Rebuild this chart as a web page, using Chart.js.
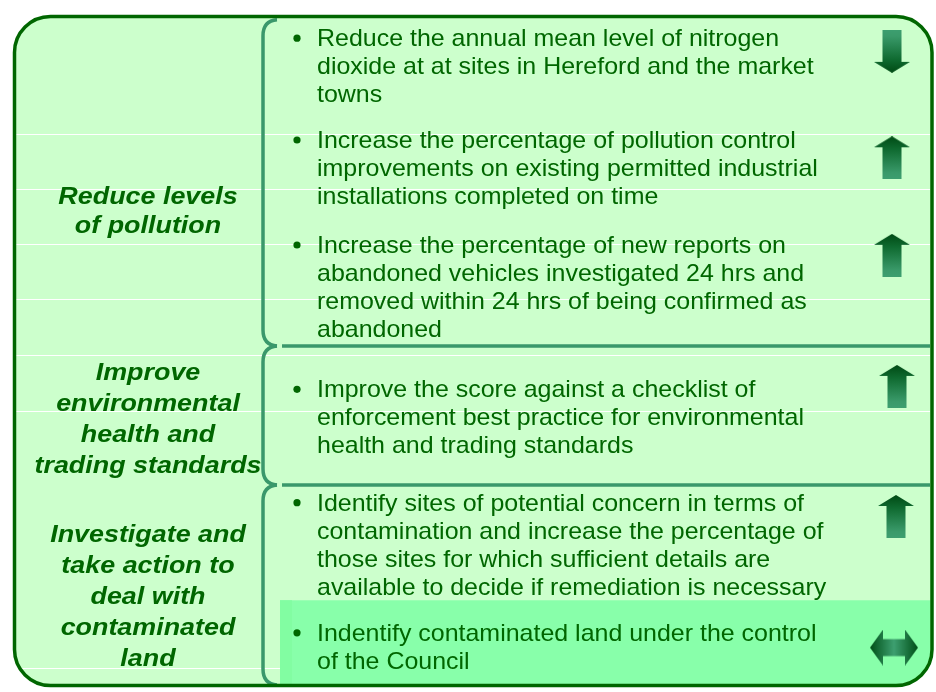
<!DOCTYPE html>
<html>
<head>
<meta charset="utf-8">
<script src="https://cdn.jsdelivr.net/npm/chart.js@4"></script>
<style>
html,body{margin:0;padding:0;background:#fff;}
canvas{display:block;}
</style>
</head>
<body>
<canvas id="c" width="936" height="692"></canvas>
<script>
// ---- data ----
const objectives = [
  ["Reduce levels", "of pollution"],
  ["Improve", "environmental", "health and", "trading standards"],
  ["Investigate and", "take action to", "deal with", "contaminated", "land"]
];
const indicators = [
  ["Reduce the annual mean level of nitrogen", "dioxide at at sites in Hereford and the market", "towns"],
  ["Increase the percentage of pollution control", "improvements on existing permitted industrial", "installations completed on time"],
  ["Increase the percentage of new reports on", "abandoned vehicles investigated 24 hrs and", "removed within 24 hrs of being confirmed as", "abandoned"],
  ["Improve the score against a checklist of", "enforcement best practice for environmental", "health and trading standards"],
  ["Identify sites of potential concern in terms of", "contamination and increase the percentage of", "those sites for which sufficient details are", "available to decide if remediation is necessary"],
  ["Indentify contaminated land under the control", "of the Council"]
];
const indicatorObjective = [0, 0, 0, 1, 2, 2];
const trends = ["down", "up", "up", "up", "up", "both"];
const highlighted = [false, false, false, false, false, true];

// ---- layout (chart units = pixels) ----
const L = {
  box: {x0: 14.5, y0: 11.7, x1: 932, y1: 690.5, r: 36},
  gridRows: [131, 187, 243, 299, 356, 412, 673],
  labelX: 148,
  labelBase: [202, 380, 545],
  labelStep: [29, 31.5, 31.3],
  groupBounds: [15, 346, 487, 690],
  braceX: 263, braceEnd: 277, ruleX0: 282, ruleX1: 930,
  bulletX: 297, textX: 317,
  itemBase: [41.7, 145, 251.5, 398, 513, 645],
  itemStep: 28.5,
  arrowX: [892, 892, 892, 897, 896, 894],
  arrowY: [47, 155, 254, 387, 519, 652],
  highlightY: 604, highlightX: 280
};
const DARK = '#006600', BRACE = '#3a986b';

function makeArrow(dir) {
  const c = document.createElement('canvas');
  const g = c.getContext('2d');
  if (dir === 'both') {
    const w = 48, h = 36, hw = 13, sh = 17;
    c.width = w; c.height = h;
    const gr = g.createLinearGradient(0, 0, w, 0);
    gr.addColorStop(0, '#004f17'); gr.addColorStop(0.5, '#3d9f70'); gr.addColorStop(1, '#004f17');
    g.fillStyle = gr;
    g.beginPath();
    g.moveTo(0, h / 2); g.lineTo(hw, 0); g.lineTo(hw, (h - sh) / 2); g.lineTo(w - hw, (h - sh) / 2);
    g.lineTo(w - hw, 0); g.lineTo(w, h / 2); g.lineTo(w - hw, h); g.lineTo(w - hw, (h + sh) / 2);
    g.lineTo(hw, (h + sh) / 2); g.lineTo(hw, h); g.closePath(); g.fill();
    return c;
  }
  const w = 36, h = 43, hh = 11, sw = 19;
  c.width = w; c.height = h;
  if (dir === 'down') { g.translate(0, h); g.scale(1, -1); }
  const gr = g.createLinearGradient(0, 0, 0, h);
  gr.addColorStop(0, '#004a14'); gr.addColorStop(0.3, '#0f6a30'); gr.addColorStop(0.85, '#3a9a6a'); gr.addColorStop(1, '#3d9f70');
  g.fillStyle = gr;
  g.beginPath();
  g.moveTo(w / 2, 0); g.lineTo(w, hh); g.lineTo((w + sw) / 2, hh); g.lineTo((w + sw) / 2, h);
  g.lineTo((w - sw) / 2, h); g.lineTo((w - sw) / 2, hh); g.lineTo(0, hh); g.closePath(); g.fill();
  return c;
}
const arrowImgs = trends.map(makeArrow);
const arrowPoints = trends.map((t, i) => ({x: L.arrowX[i], y: L.arrowY[i]}));

function boxPath(ctx, X, Y, b, inset) {
  const x0 = X(b.x0) + inset, y0 = Y(b.y0) + inset, x1 = X(b.x1) - inset, y1 = Y(b.y1) - inset, r = b.r - inset;
  ctx.beginPath();
  ctx.moveTo(x0 + r, y0);
  ctx.arcTo(x1, y0, x1, y1, r);
  ctx.arcTo(x1, y1, x0, y1, r);
  ctx.arcTo(x0, y1, x0, y0, r);
  ctx.arcTo(x0, y0, x1, y0, r);
  ctx.closePath();
}
function stretchText(ctx, s, x, y, sx) {
  ctx.save(); ctx.translate(x, y); ctx.scale(sx, 1); ctx.fillText(s, 0, 0); ctx.restore();
}

const diagram = {
  id: 'diagram',
  beforeDraw(chart) {
    const ctx = chart.ctx, X = v => chart.scales.x.getPixelForValue(v), Y = v => chart.scales.y.getPixelForValue(v);
    ctx.save();
    ctx.fillStyle = '#ffffff'; ctx.fillRect(0, 0, chart.width, chart.height);
    boxPath(ctx, X, Y, L.box, 0);
    ctx.fillStyle = '#ccffcc'; ctx.fill();
    ctx.restore();
  },
  beforeDatasetsDraw(chart) {
    const ctx = chart.ctx, X = v => chart.scales.x.getPixelForValue(v), Y = v => chart.scales.y.getPixelForValue(v);
    ctx.save();
    // highlighted rows
    highlighted.forEach((h, i) => {
      if (!h) return;
      ctx.save();
      boxPath(ctx, X, Y, L.box, 1.5); ctx.clip();
      ctx.fillStyle = '#88ffaa';
      ctx.fillRect(X(L.highlightX), Y(L.highlightY), X(L.box.x1) - X(L.highlightX), Y(L.box.y1) - Y(L.highlightY));
      ctx.fillStyle = '#82fda2';
      ctx.fillRect(X(L.highlightX), Y(L.highlightY), 12, Y(L.box.y1) - Y(L.highlightY));
      ctx.restore();
    });
    // braces
    ctx.strokeStyle = BRACE; ctx.lineWidth = 3.5; ctx.lineCap = 'butt';
    for (let g = 0; g < objectives.length; g++) {
      const t = Y(L.groupBounds[g]), b = Y(L.groupBounds[g + 1]), bx = X(L.braceX), be = X(L.braceEnd);
      ctx.beginPath();
      ctx.moveTo(be, t);
      ctx.quadraticCurveTo(bx, t + 1, bx, t + 16);
      ctx.lineTo(bx, b - 16);
      ctx.quadraticCurveTo(bx, b - 1, be, b);
      ctx.stroke();
      if (g > 0) {
        ctx.beginPath(); ctx.moveTo(X(L.ruleX0), t); ctx.lineTo(X(L.ruleX1), t); ctx.stroke();
      }
    }
    // objective labels
    ctx.fillStyle = DARK;
    ctx.textAlign = 'center'; ctx.textBaseline = 'alphabetic';
    ctx.font = 'italic bold 24px "Liberation Sans", Arial, sans-serif';
    objectives.forEach((lines, g) => {
      lines.forEach((s, k) => stretchText(ctx, s, X(L.labelX), Y(L.labelBase[g] + k * L.labelStep[g]), 1.12));
    });
    // indicators
    ctx.textAlign = 'left';
    ctx.font = '24px "Liberation Sans", Arial, sans-serif';
    indicators.forEach((lines, i) => {
      const b0 = L.itemBase[i];
      ctx.beginPath(); ctx.arc(X(L.bulletX), Y(b0 - 8), 3.6, 0, Math.PI * 2); ctx.fill();
      lines.forEach((s, k) => stretchText(ctx, s, X(L.textX), Y(b0 + k * L.itemStep), 1.04));
    });
    ctx.restore();
  },
  afterDraw(chart) {
    const ctx = chart.ctx, X = v => chart.scales.x.getPixelForValue(v), Y = v => chart.scales.y.getPixelForValue(v);
    ctx.save();
    boxPath(ctx, X, Y, L.box, 0);
    ctx.strokeStyle = DARK; ctx.lineWidth = 3.5; ctx.stroke();
    ctx.restore();
  }
};

new Chart(document.getElementById('c'), {
  type: 'scatter',
  data: {
    datasets: [{
      label: 'Trend',
      data: arrowPoints,
      pointStyle: arrowImgs,
      pointRadius: 4,
      pointHoverRadius: 4,
      showLine: false
    }]
  },
  options: {
    responsive: false,
    animation: false,
    devicePixelRatio: 1,
    events: [],
    layout: {padding: {left: 16, right: 6, top: 0, bottom: 0}},
    plugins: {legend: {display: false}, tooltip: {enabled: false}},
    scales: {
      x: {type: 'linear', min: 16, max: 930, display: false},
      y: {
        type: 'linear', min: 0, max: 692, reverse: true,
        border: {display: false},
        ticks: {display: false},
        grid: {color: '#ffffff', lineWidth: 1, drawTicks: false},
        afterBuildTicks: s => { s.ticks = L.gridRows.map(v => ({value: v})); }
      }
    }
  },
  plugins: [diagram]
});
</script>
</body>
</html>
